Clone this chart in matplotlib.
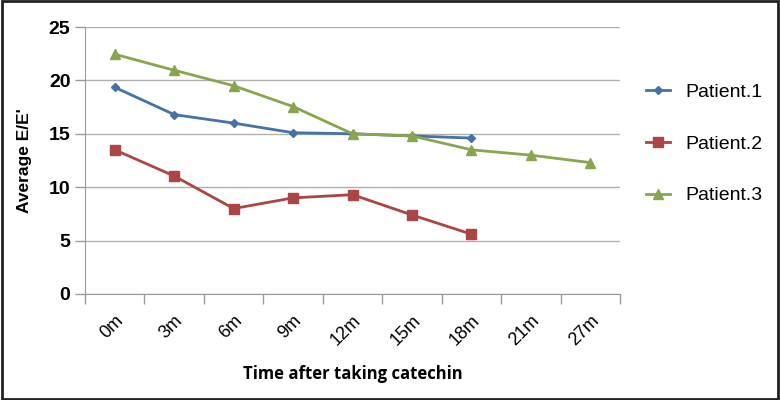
import numpy as np
import matplotlib
matplotlib.use('Agg')
import matplotlib.pyplot as plt
from matplotlib.patches import Rectangle

times = ['0m', '3m', '6m', '9m', '12m', '15m', '18m', '21m', '27m']
patient1 = [19.35, 16.8, 16.0, 15.1, 15.0, 14.8, 14.6]
patient2 = [13.5, 11.05, 8.0, 9.0, 9.3, 7.4, 5.6]
patient3 = [22.45, 20.95, 19.5, 17.55, 15.0, 14.8, 13.5, 13.0, 12.3]

plt.rcParams['font.family'] = ['Liberation Sans', 'DejaVu Sans']

fig = plt.figure(figsize=(7.8, 4.0), dpi=100)
ax = fig.add_axes([0.109, 0.265, 0.686, 0.6675])

x = np.arange(len(times))
ax.plot(x[:len(patient1)], patient1, color='#4572A7', marker='D', markersize=4.5,
        linewidth=2, label='Patient.1')
ax.plot(x[:len(patient2)], patient2, color='#AA4643', marker='s', markersize=6.5,
        linewidth=2, label='Patient.2')
ax.plot(x[:len(patient3)], patient3, color='#89A54E', marker='^', markersize=7,
        linewidth=2, label='Patient.3')

ax.set_xlim(-0.5, len(times) - 0.5)
ax.set_ylim(0, 25)
ax.set_yticks([0, 5, 10, 15, 20, 25])
ax.yaxis.grid(True, color='#b0b0b0', linewidth=1)
ax.set_axisbelow(True)

ax.set_xticks(x)
ax.set_xticklabels(times, rotation=45, ha='right', rotation_mode='anchor',
                   fontsize=13)
ax.tick_params(axis='x', length=0, pad=13)
ax.set_xticks(np.arange(len(times) + 1) - 0.5, minor=True)
ax.tick_params(axis='x', which='minor', length=7, color='#9a9a9a', width=1)
ax.tick_params(axis='y', length=7, color='#9a9a9a', width=1, labelsize=14)
for lab in ax.get_yticklabels():
    lab.set_fontweight('bold')

for side in ['top', 'right']:
    ax.spines[side].set_visible(False)
for side in ['left', 'bottom']:
    ax.spines[side].set_color('#9a9a9a')

ax.set_ylabel("Average E/E'", fontsize=12.5, fontweight='bold', labelpad=12)
ax.set_xlabel('Time after taking catechin', fontsize=12, fontweight='bold',
              family=['Open Sans', 'DejaVu Sans'], labelpad=12)

fig.legend(loc='upper left', bbox_to_anchor=(0.806, 0.835), frameon=False,
           fontsize=14, labelspacing=1.75, handlelength=1.2, handletextpad=0.8)

fig.patches.append(Rectangle((0.002, 0.003), 0.996, 0.994, transform=fig.transFigure,
                             fill=False, edgecolor='#222222', linewidth=2))

fig.savefig('out.png', dpi=100)
